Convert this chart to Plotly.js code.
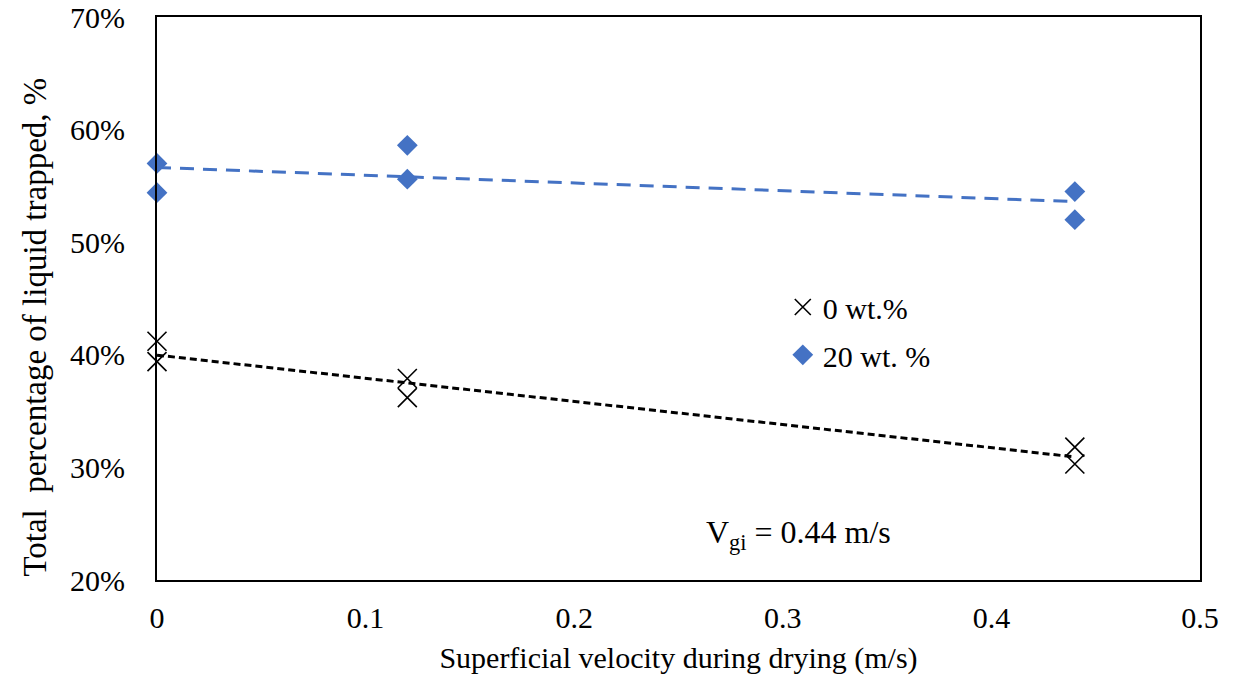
<!DOCTYPE html>
<html>
<head>
<meta charset="utf-8">
<script src="https://cdn.plot.ly/plotly-3.0.1.min.js"></script>
<style>body{margin:0;padding:0;background:#fff;} #chart{width:1234px;height:678px;}</style>
</head>
<body>
<div id="chart"></div>
<script>
// Data
const velocity = [0, 0, 0.12, 0.12, 0.44, 0.44];
const trapped0wt = [0.412, 0.394, 0.379, 0.362, 0.318, 0.303];
const trapped20wt = [0.570, 0.544, 0.586, 0.556, 0.545, 0.520];
const seriesNames = ['0 wt.%', '20 wt. %'];
const yTickVals = [0.2, 0.3, 0.4, 0.5, 0.6, 0.7];
const yTickText = ['20%', '30%', '40%', '50%', '60%', '70%'];
const xTickVals = [0, 0.1, 0.2, 0.3, 0.4, 0.5];
const xTickText = ['0', '0.1', '0.2', '0.3', '0.4', '0.5'];
const xTitle = 'Superficial velocity during drying (m/s)';
const yTitle = 'Total&nbsp; percentage of liquid trapped, %';
const noteText = 'V<sub>gi</sub> = 0.44 m/s';

function linFit(xs, ys) {
  const n = xs.length;
  const mx = xs.reduce((a, b) => a + b, 0) / n;
  const my = ys.reduce((a, b) => a + b, 0) / n;
  let sxy = 0, sxx = 0;
  for (let i = 0; i < n; i++) { sxy += (xs[i] - mx) * (ys[i] - my); sxx += (xs[i] - mx) ** 2; }
  const m = sxy / sxx, b = my - m * mx;
  const x0 = Math.min(...xs), x1 = Math.max(...xs);
  return { x: [x0, x1], y: [m * x0 + b, m * x1 + b] };
}
const fit0 = linFit(velocity, trapped0wt);
const fit20 = linFit(velocity, trapped20wt);

const FONT = 'Liberation Serif, Times New Roman, serif';
const FS = 30;
const BLUE = '#4472C4';

const traces = [
  { x: fit0.x, y: fit0.y, mode: 'lines', line: { color: '#000', width: 3, dash: '7px,4px' }, showlegend: false, hoverinfo: 'skip', cliponaxis: false },
  { x: fit20.x, y: fit20.y, mode: 'lines', line: { color: BLUE, width: 3, dash: '14px,9px' }, showlegend: false, hoverinfo: 'skip', cliponaxis: false },
  { x: velocity, y: trapped0wt, name: seriesNames[0], mode: 'markers', cliponaxis: false, legend: 'legend',
    marker: { symbol: 'x-thin-open', size: 19, color: '#000', line: { color: '#000', width: 1.6 } } },
  { x: velocity, y: trapped20wt, name: seriesNames[1], mode: 'markers', cliponaxis: false, legend: 'legend2',
    marker: { symbol: 'diamond', size: 16, color: BLUE } }
];

const legendBase = { xanchor: 'left', yanchor: 'middle', bgcolor: 'rgba(0,0,0,0)', borderwidth: 0,
  font: { family: FONT, size: FS, color: '#000' }, itemwidth: 30 };

const layout = {
  width: 1234, height: 678,
  margin: { l: 157, r: 34, t: 17, b: 98 },
  paper_bgcolor: '#fff', plot_bgcolor: '#fff',
  font: { family: FONT, size: FS, color: '#000' },
  xaxis: {
    range: [0, 0.5], tickvals: xTickVals, ticktext: xTickText,
    showgrid: false, zeroline: false, showline: true, mirror: true, linecolor: '#000', linewidth: 2,
    ticks: '', tickfont: { family: FONT, size: FS, color: '#000' }, ticklabelstandoff: 10,
    title: { text: xTitle, font: { family: FONT, size: FS, color: '#000' }, standoff: 14 }
  },
  yaxis: {
    range: [0.2, 0.7], tickvals: yTickVals, ticktext: yTickText,
    showgrid: false, zeroline: false, showline: true, mirror: true, linecolor: '#000', linewidth: 2,
    ticks: '', tickfont: { family: FONT, size: FS, color: '#000' }, ticklabelstandoff: 24
  },
  legend: Object.assign({}, legendBase, { x: 0.60, y: 0.485 }),
  legend2: Object.assign({}, legendBase, { x: 0.60, y: 0.40 }),
  annotations: [
    { xref: 'paper', yref: 'paper', x: 0.615, y: 0.08, xanchor: 'center', yanchor: 'middle', showarrow: false,
      text: noteText, font: { family: FONT, size: 32, color: '#000' } },
    { xref: 'paper', yref: 'paper', x: -0.117, y: 0.45, xanchor: 'center', yanchor: 'middle', showarrow: false,
      textangle: -90, text: yTitle, font: { family: FONT, size: 33, color: '#000' } }
  ]
};

Plotly.newPlot('chart', traces, layout, { displayModeBar: false, staticPlot: true });
</script>
</body>
</html>
